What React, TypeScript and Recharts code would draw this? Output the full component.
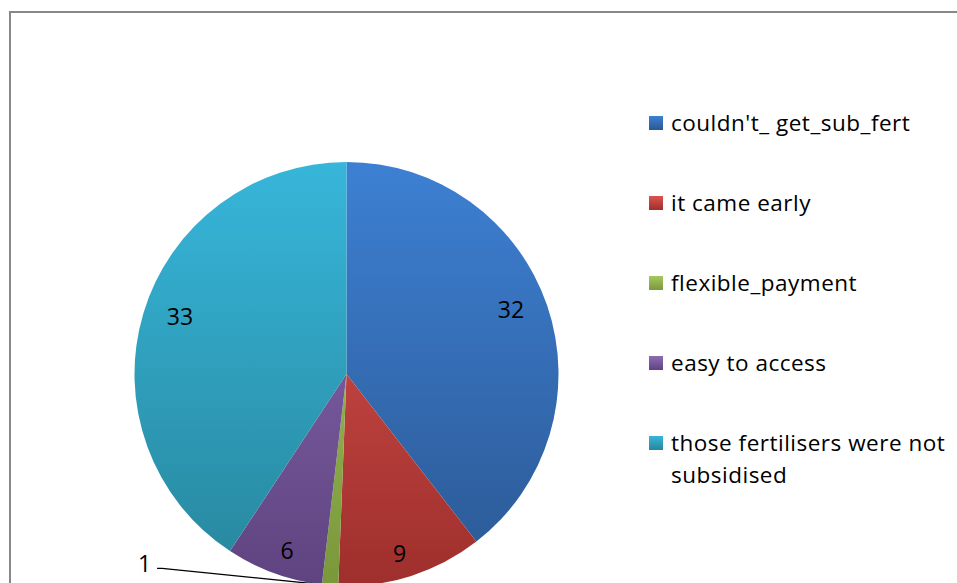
import { Cell, Legend, Pie, PieChart } from 'recharts'

const categories = [
  "couldn't_ get_sub_fert",
  'it came early',
  'flexible_payment',
  'easy to access',
  'those fertilisers were not subsidised',
]
const counts = [32, 9, 1, 6, 33]

const SHADES = [
  { top: '#3d80d3', bottom: '#2b5893' },
  { top: '#dc5450', bottom: '#9e2f2c' },
  { top: '#a6c862', bottom: '#7a983a' },
  { top: '#8c6db4', bottom: '#5f4380' },
  { top: '#37b6da', bottom: '#27869c' },
]

const data = categories.map((name, i) => ({ name, value: counts[i] }))

const FONT = '"Open Sans", "Noto Sans", sans-serif'
const RAD = Math.PI / 180

function SliceLabel(props: any) {
  const { cx, cy, midAngle, outerRadius, value } = props
  const cos = Math.cos(-midAngle * RAD)
  const sin = Math.sin(-midAngle * RAD)
  if (value < 3) {
    // small slice: label pulled out to the left with a leader line
    const ex = cx + outerRadius * cos
    const ey = cy + outerRadius * sin
    const bx = ex - 168
    const by = ey - 17
    return (
      <g>
        <polyline
          points={`${ex},${ey} ${bx},${by} ${bx - 5},${by}`}
          fill="none"
          stroke="#000"
          strokeWidth={1.3}
        />
        <text x={bx - 11} y={by - 5} textAnchor="end" dominantBaseline="central" fontSize={23} fontFamily={FONT} fill="#000">
          {value}
        </text>
      </g>
    )
  }
  return (
    <text
      x={cx + outerRadius * 0.82 * cos}
      y={cy + outerRadius * 0.9 * sin - 3}
      textAnchor="middle"
      dominantBaseline="central"
      fontSize={23}
      fontFamily={FONT}
      fill="#000"
    >
      {value}
    </text>
  )
}

function LegendBox() {
  return (
    <div style={{ fontFamily: FONT, fontSize: 22.5, letterSpacing: 0.5, color: '#000', width: 300 }}>
      {categories.map((name, i) => (
        <div key={name} style={{ display: 'flex', alignItems: 'flex-start', height: 80, lineHeight: '32px' }}>
          <div
            style={{
              width: 14,
              height: 14,
              marginTop: 9,
              marginRight: 8,
              flexShrink: 0,
              background: `linear-gradient(${SHADES[i].top}, ${SHADES[i].bottom})`,
            }}
          />
          <span>{name}</span>
        </div>
      ))}
    </div>
  )
}

export default function App() {
  return (
    <div style={{ position: 'fixed', left: 0, top: 0, width: 957, height: 583, overflow: 'hidden', background: '#fff' }}>
      <svg width={0} height={0} style={{ position: 'absolute' }}>
        <defs>
          {SHADES.map((s, i) => (
            <linearGradient key={i} id={`slice${i}`} gradientUnits="userSpaceOnUse" x1={0} y1={162} x2={0} y2={586}>
              <stop offset="0%" stopColor={s.top} />
              <stop offset="100%" stopColor={s.bottom} />
            </linearGradient>
          ))}
        </defs>
      </svg>
      <div
        style={{
          position: 'absolute',
          left: 9,
          top: 11,
          width: 1000,
          height: 700,
          border: '2px solid #888',
          boxSizing: 'border-box',
        }}
      />
      <div style={{ position: 'absolute', left: 0, top: 0 }}>
        <PieChart width={957} height={583} margin={{ top: 0, right: 0, bottom: 0, left: 0 }}>
          <Pie
            data={data}
            dataKey="value"
            nameKey="name"
            cx={346.5}
            cy={374}
            outerRadius={212}
            startAngle={90}
            endAngle={-270}
            stroke="none"
            label={SliceLabel}
            labelLine={false}
            isAnimationActive={false}
          >
            {data.map((d, i) => (
              <Cell key={d.name} fill={`url(#slice${i})`} />
            ))}
          </Pie>
          <Legend
            layout="vertical"
            align="right"
            verticalAlign="top"
            content={() => <LegendBox />}
            wrapperStyle={{ left: 649, top: 107, width: 300 }}
          />
        </PieChart>
      </div>
    </div>
  )
}
